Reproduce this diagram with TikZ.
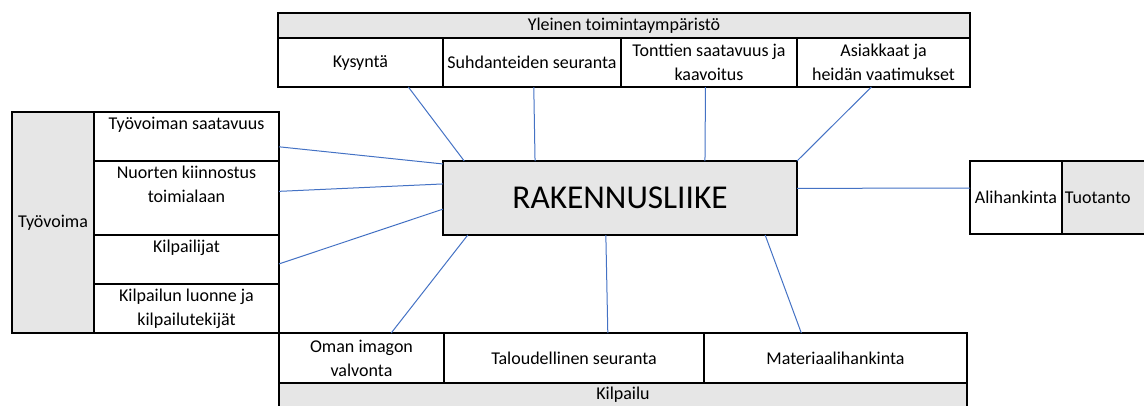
\documentclass[tikz,border=0pt]{standalone}
\usepackage{fontspec}
\setmainfont{Carlito}
\usetikzlibrary{positioning, calc}

\definecolor{boxgray}{RGB}{230,230,230}
\definecolor{linkblue}{RGB}{68,114,196}
\newcommand{\cellfont}{\fontsize{13.5pt}{18pt}\selectfont}

\begin{document}
\begin{tikzpicture}[
    x=0.75pt, y=-0.75pt,
    every node/.style={font=\cellfont},
    cell/.style 2 args={draw, line width=1.2pt, inner sep=2pt, outer sep=0pt, minimum width=#1*0.75pt, minimum height=#2*0.75pt, align=center},
    shaded/.style={fill=boxgray},
    toptext/.style={label={[anchor=north, align=center, inner sep=3.5pt]north:#1}},
    link/.style={draw=linkblue, line width=0.75pt}
]
\useasboundingbox (0,0) rectangle (1144,405);

% Top: general environment
\node[cell={692}{25}, shaded, anchor=north west] (yleinen) at (278,13) {Yleinen toimintaympäristö};
\node[cell={165}{49}, anchor=north west] (kysynta) at (278,38) {Kysyntä};
\node[cell={178}{49}, right=0pt of kysynta] (suhdanteet) {Suhdanteiden seuranta};
\node[cell={176}{49}, right=0pt of suhdanteet] (tontit) {Tonttien saatavuus ja\\kaavoitus};
\node[cell={173}{49}, right=0pt of tontit] (asiakkaat) {Asiakkaat ja\\heidän vaatimukset};

% Left: workforce
\node[cell={82}{221}, shaded, anchor=north west] (tyovoima) at (12,112) {Työvoima};
\node[cell={185}{49}, toptext={Työvoiman saatavuus}, anchor=north west] (saatavuus) at (94,112) {};
\node[cell={185}{74}, toptext={Nuorten kiinnostus\\toimialaan}, below=0pt of saatavuus] (nuoret) {};
\node[cell={185}{49}, toptext={Kilpailijat}, below=0pt of nuoret] (kilpailijat) {};
\node[cell={185}{49}, toptext={Kilpailun luonne ja\\kilpailutekijät}, below=0pt of kilpailijat] (luonne) {};

% Centre
\node[cell={354}{74}, shaded, anchor=north west, font=\fontsize{25pt}{28pt}\selectfont] (rakennus) at (443,161) {RAKENNUSLIIKE};

% Right: production
\node[cell={92}{73}, anchor=north west] (alihankinta) at (970,161) {Alihankinta};
\node[cell={90}{73}, shaded, right=0pt of alihankinta, label={[anchor=west, inner sep=2pt]west:Tuotanto}] (tuotanto) {};

% Bottom: competition
\node[cell={165}{50}, anchor=north west] (oman) at (279,333) {Oman imagon\\valvonta};
\node[cell={260}{50}, right=0pt of oman] (talous) {Taloudellinen seuranta};
\node[cell={263}{50}, right=0pt of talous] (materiaali) {Materiaalihankinta};
\node[cell={688}{24}, shaded, anchor=north west] (kilpailu) at (279,383) {Kilpailu};

% Links to the centre
\draw[link] ($(kysynta.south west)!0.79!(kysynta.south east)$) -- ($(rakennus.north west)!0.06!(rakennus.north east)$);
\draw[link] ($(suhdanteet.south west)!0.51!(suhdanteet.south east)$) -- ($(rakennus.north west)!0.26!(rakennus.north east)$);
\draw[link] ($(tontit.south west)!0.48!(tontit.south east)$) -- ($(rakennus.north west)!0.74!(rakennus.north east)$);
\draw[link] ($(asiakkaat.south west)!0.43!(asiakkaat.south east)$) -- (rakennus.north east);
\draw[link] ($(rakennus.north east)!0.37!(rakennus.south east)$) -- ($(alihankinta.north west)!0.37!(alihankinta.south west)$);
\draw[link] ($(saatavuus.north east)!0.71!(saatavuus.south east)$) -- ($(rakennus.north west)!0.04!(rakennus.south west)$);
\draw[link] ($(nuoret.north east)!0.41!(nuoret.south east)$) -- ($(rakennus.north west)!0.31!(rakennus.south west)$);
\draw[link] ($(kilpailijat.north east)!0.59!(kilpailijat.south east)$) -- ($(rakennus.north west)!0.65!(rakennus.south west)$);
\draw[link] ($(oman.north west)!0.68!(oman.north east)$) -- ($(rakennus.south west)!0.07!(rakennus.south east)$);
\draw[link] ($(talous.north west)!0.63!(talous.north east)$) -- ($(rakennus.south west)!0.46!(rakennus.south east)$);
\draw[link] ($(materiaali.north west)!0.37!(materiaali.north east)$) -- ($(rakennus.south west)!0.91!(rakennus.south east)$);

\end{tikzpicture}
\end{document}
